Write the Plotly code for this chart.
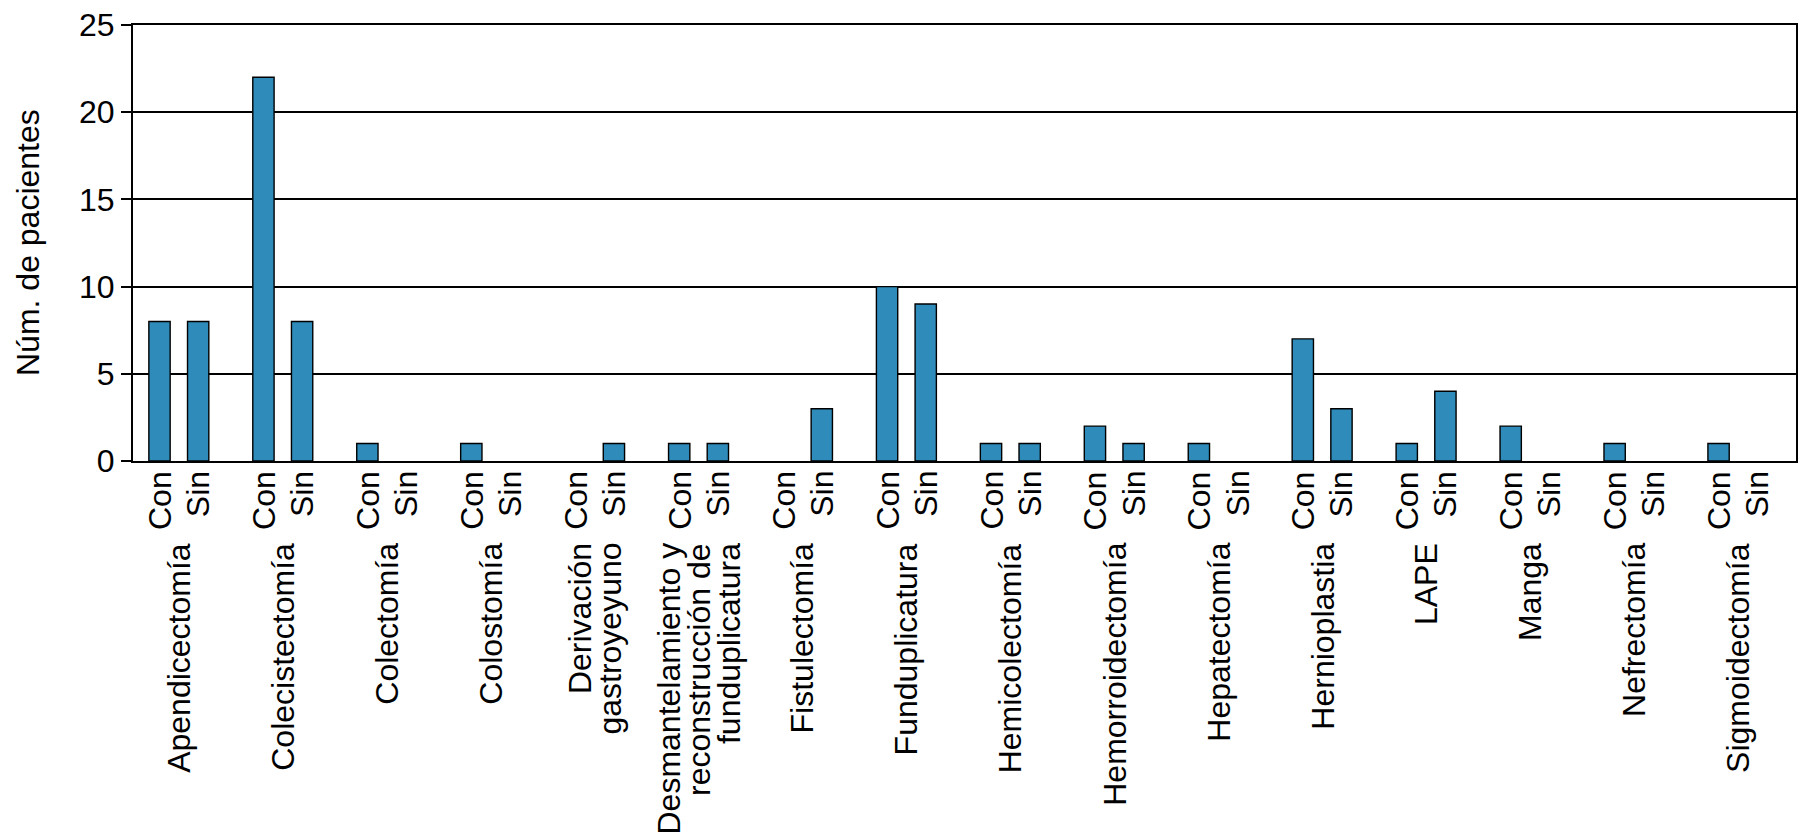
import plotly.graph_objects as go

# ---- data ----
categories = [
    ["Apendicectomía"],
    ["Colecistectomía"],
    ["Colectomía"],
    ["Colostomía"],
    ["Derivación", "gastroyeyuno"],
    ["Desmantelamiento y", "reconstrucción de", "funduplicatura"],
    ["Fistulectomía"],
    ["Funduplicatura"],
    ["Hemicolectomía"],
    ["Hemorroidectomía"],
    ["Hepatectomía"],
    ["Hernioplastia"],
    ["LAPE"],
    ["Manga"],
    ["Nefrectomía"],
    ["Sigmoidectomía"],
]
con_values = [8, 22, 1, 1, 0, 1, 0, 10, 1, 2, 1, 7, 1, 2, 1, 1]
sin_values = [8, 8, 0, 0, 1, 1, 3, 9, 1, 1, 0, 3, 4, 0, 0, 0]
sub_labels = ["Con", "Sin"]
y_ticks = [0, 5, 10, 15, 20, 25]
y_title = "Núm. de pacientes"

# ---- styling / layout ----
FONT = "Liberation Sans, Arial, sans-serif"
FS = 32
BAR_COLOR = "#2E8BBA"
OFF_CON, OFF_SIN = 0.255, 0.627
BAR_W = 0.205
LINE_STEP = 30  # px between lines of multi-line category labels

n = len(categories)
x_con = [i + OFF_CON for i in range(n)]
x_sin = [i + OFF_SIN for i in range(n)]


def outline(vals):
    return [1.4 if v > 0 else 0 for v in vals]


fig = go.Figure()
fig.add_trace(go.Bar(x=x_con, y=con_values, width=BAR_W, name=sub_labels[0],
                     marker=dict(color=BAR_COLOR,
                                 line=dict(color="black", width=outline(con_values)))))
fig.add_trace(go.Bar(x=x_sin, y=sin_values, width=BAR_W, name=sub_labels[1],
                     marker=dict(color=BAR_COLOR,
                                 line=dict(color="black", width=outline(sin_values)))))

annotations = []
# sub labels Con / Sin
for i in range(n):
    for xs, lab in ((x_con[i], sub_labels[0]), (x_sin[i], sub_labels[1])):
        annotations.append(dict(x=xs, xref="x", y=0, yref="paper", text=lab,
                                textangle=-90, xanchor="center", yanchor="top",
                                yshift=-8, showarrow=False,
                                font=dict(family=FONT, size=FS, color="black")))
# category labels (one annotation per line, right-aligned -> tops aligned)
for i, lines in enumerate(categories):
    xc = (x_con[i] + x_sin[i]) / 2
    k = len(lines)
    for j, line in enumerate(lines):
        shift = (j - (k - 1) / 2) * LINE_STEP
        annotations.append(dict(x=xc, xref="x", y=0, yref="paper", text=line,
                                textangle=-90, xanchor="center", yanchor="top",
                                xshift=shift, yshift=-80, showarrow=False,
                                font=dict(family=FONT, size=FS, color="black")))
# y axis title
annotations.append(dict(x=0, xref="paper", y=0.5, yref="paper", text=y_title,
                        textangle=-90, xanchor="center", yanchor="middle",
                        xshift=-105, showarrow=False,
                        font=dict(family=FONT, size=FS, color="black")))

fig.update_layout(
    width=1800, height=839, autosize=False,
    margin=dict(l=133, r=2, t=25, b=378),
    paper_bgcolor="white", plot_bgcolor="white",
    showlegend=False, barmode="overlay",
    font=dict(family=FONT, size=FS, color="black"),
    annotations=annotations,
    xaxis=dict(range=[0, n], showticklabels=False, showgrid=False, zeroline=False,
               showline=True, linecolor="black", linewidth=2, mirror=True, ticks=""),
    yaxis=dict(range=[0, 25], tickvals=y_ticks, ticks="outside", ticklen=10,
               tickwidth=1.5, tickcolor="black", showgrid=True, gridcolor="black",
               gridwidth=1.5, showline=True, linecolor="black", linewidth=2,
               mirror=True, zeroline=False,
               tickfont=dict(family=FONT, size=FS, color="black")),
)

fig.write_html("out.html", config={"displayModeBar": False},
               post_script="document.body.style.margin='0';document.body.style.overflow='hidden';")
